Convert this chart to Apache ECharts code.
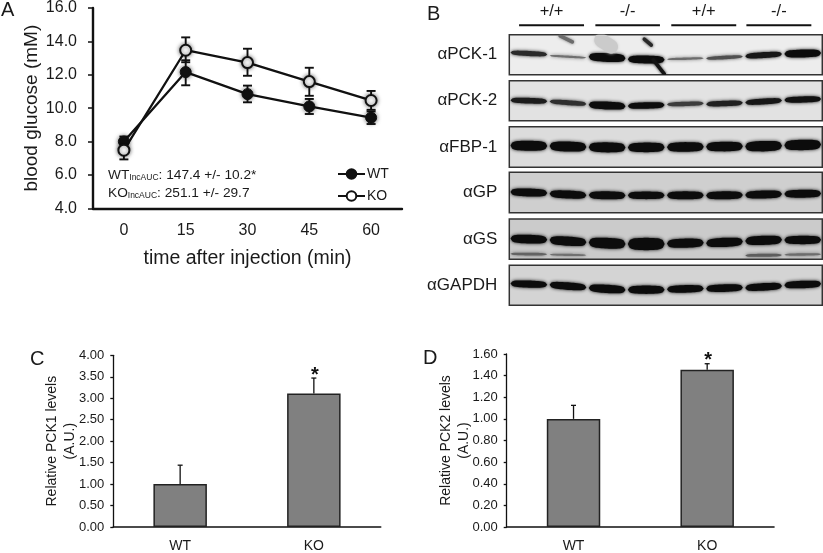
<!DOCTYPE html>
<html><head><meta charset="utf-8">
<style>html,body{margin:0;padding:0;background:#fff}#c{width:823px;height:553px}</style>
<script src="https://cdn.jsdelivr.net/npm/echarts@6/dist/echarts.min.js"></script>
</head><body><div id="c"></div>
<script>
// Panel A
const times = ['0','15','30','45','60'];
const wtMean = [8.0,12.16,10.84,10.1,9.43];
const wtLow  = [7.7,11.37,10.35,9.65,9.05];
const wtHigh = [8.3,12.87,11.35,10.55,9.8];
const koMean = [7.48,13.47,12.73,11.59,10.46];
const koLow  = [6.93,12.75,11.94,10.74,9.9];
const koHigh = [8.0,14.24,13.56,12.42,11.03];
// Panels C and D
const groups = ['WT','KO'];
const pck1Mean = [1.0,3.11];
const pck1High = [1.44,3.47];
const pck2Mean = [1.0,1.455];
const pck2High = [1.125,1.51];
const significance = ['','*'];
// Panel B: per lane band height in the blot (0 bottom to 1 top) and signal
const genotypes = ['+/+','-/-','+/+','-/-'];
const genotypeFrom = [-0.25,1.7,3.64,5.56];
const genotypeTo = [1.41,3.35,5.3,7.22];
const blotNames = ['αPCK-1','αPCK-2','αFBP-1','αGP','αGS','αGAPDH'];
const pck1Pos = [.53,.45,.43,.38,.40,.43,.49,.53];
const pck1Sig = [.65,.28,1.1,1.0,.3,.45,.75,1.0];
const pck2Pos = [.50,.45,.38,.38,.42,.43,.48,.53];
const pck2Sig = [.72,.62,1.0,.82,.55,.7,.75,.78];
const fbpPos = [.53,.51,.49,.49,.50,.51,.52,.55];
const fbpSig = [1.25,1.25,1.25,1.2,1.2,1.2,1.3,1.3];
const gpPos = [.50,.45,.43,.43,.43,.43,.45,.47];
const gpSig = [1.0,1.0,1.0,.95,1.0,1.0,1.0,1.0];
const gsPos = [.50,.45,.40,.38,.40,.42,.47,.48];
const gsSig = [1.1,1.15,1.35,1.55,1.15,1.15,1.15,1.05];
const gsLowerPos = [.13,.11,.1,.1,.1,.1,.10,.12];
const gsLowerSig = [.35,.28,0,0,0,0,.38,.3];
const gapdhPos = [.53,.48,.41,.39,.41,.43,.46,.52];
const gapdhSig = [.9,.95,1.05,1.05,.95,.95,.95,.95];
// PCK-1 membrane marks: lane from, height from, lane to, height to, strength
const pck1Marks = [[.80,.97,1.11,.82,.55],[1.85,.86,2.1,.70,.06],[2.95,.89,3.13,.74,.9],[3.18,.37,3.46,.02,1]];

const FONT = '"Liberation Sans", Arial, sans-serif';
const blotFrames = [[34.7,40],[80.7,40],[126.7,40.5],[172.3,40.4],[219,40.3],[265.3,40]];
const blotFill = ['#ededed','#e2e2e2','#dcdcdc','#cfcfcf','#cbcbcb','#d4d4d4'];
const blotBands = [
  [[pck1Pos,pck1Sig]],[[pck2Pos,pck2Sig]],[[fbpPos,fbpSig]],[[gpPos,gpSig]],
  [[gsPos,gsSig],[gsLowerPos,gsLowerSig]],[[gapdhPos,gapdhSig]]
];

const grid=[], xAxis=[], yAxis=[], series=[];

function errorRender(lw,capHalf,bothSides){
  return function(params,api){
    const x=api.value(0), lo=api.coord([x,api.value(1)]), hi=api.coord([x,api.value(2)]);
    const ln=(a,b,c,d)=>({type:'line',shape:{x1:a,y1:b,x2:c,y2:d},style:{stroke:'#111',lineWidth:lw}});
    const ch=[ln(lo[0],lo[1],hi[0],hi[1]),ln(hi[0]-capHalf,hi[1],hi[0]+capHalf,hi[1])];
    if(bothSides) ch.push(ln(lo[0]-capHalf,lo[1],lo[0]+capHalf,lo[1]));
    const mark=significance[params.dataIndex];
    if(!bothSides&&mark) ch.push({type:'text',style:{text:mark,x:hi[0]+1,y:hi[1]-3,align:'center',verticalAlign:'middle',fontFamily:FONT,fontSize:20,fontWeight:'bold',fill:'#111'}});
    return {type:'group',children:ch};
  };
}

// ---- Panel A
grid.push({left:93,top:5.3,width:309,height:203});
xAxis.push({type:'category',gridIndex:0,data:times,boundaryGap:true,name:'time after injection (min)',nameLocation:'middle',nameGap:40,
  nameTextStyle:{fontFamily:FONT,fontSize:19.5,color:'#1a1a1a'},axisLine:{lineStyle:{color:'#111',width:2.4}},
  axisTick:{alignWithLabel:true,length:3,lineStyle:{color:'#111',width:1.5}},axisLabel:{fontFamily:FONT,fontSize:16,color:'#1a1a1a',margin:14}});
yAxis.push({type:'value',gridIndex:0,min:4,max:16,interval:2,name:'blood glucose (mM)',nameLocation:'middle',nameGap:52,
  nameTextStyle:{fontFamily:FONT,fontSize:19,color:'#1a1a1a'},splitLine:{show:false},axisLine:{show:true,lineStyle:{color:'#111',width:2.4}},
  axisTick:{show:true,length:5,lineStyle:{color:'#111',width:1.5}},axisLabel:{formatter:v=>v.toFixed(1),fontFamily:FONT,fontSize:16,color:'#1a1a1a',margin:16,showMinLabel:true,showMaxLabel:true}});
const rows=(lo,hi)=>times.map((_,i)=>[i,lo[i],hi[i]]);
series.push({type:'custom',name:'WT error',xAxisIndex:0,yAxisIndex:0,data:rows(wtLow,wtHigh),encode:{x:0,y:[1,2]},renderItem:errorRender(1.9,4.5,true),z:2,clip:false});
series.push({type:'custom',name:'KO error',xAxisIndex:0,yAxisIndex:0,data:rows(koLow,koHigh),encode:{x:0,y:[1,2]},renderItem:errorRender(1.9,4.5,true),z:2,clip:false});
const lineSeries=(name,data,fill)=>({type:'line',name,xAxisIndex:0,yAxisIndex:0,data,symbol:'circle',symbolSize:11,z:4,clip:false,
  lineStyle:{color:'#111',width:2.3},itemStyle:{color:fill,borderColor:'#111',borderWidth:fill==='#fff'?2:1,shadowBlur:4,shadowColor:'rgba(0,0,0,.55)'},emphasis:{disabled:true}});
series.push(lineSeries('WT',wtMean,'#111'));
series.push(lineSeries('KO',koMean,'#fff'));

// ---- Panels C and D
function barPanel(idx,left,right,top,bottom,max,interval,name,means,highs,nameGap){
  grid.push({left,top,width:right-left,height:bottom-top});
  xAxis.push({type:'category',gridIndex:idx,data:groups,axisLine:{lineStyle:{color:'#111',width:1.6}},
    axisTick:{alignWithLabel:false,length:4,lineStyle:{color:'#111',width:1.3}},
    axisLabel:{fontFamily:FONT,fontSize:14,color:'#1a1a1a',margin:12}});
  yAxis.push({type:'value',gridIndex:idx,min:0,max,interval,name,nameLocation:'middle',nameGap,nameMoveOverlap:false,
    nameTextStyle:{fontFamily:FONT,fontSize:14,color:'#1a1a1a',lineHeight:18},splitLine:{show:false},
    axisLine:{show:true,lineStyle:{color:'#111',width:1.3}},axisTick:{show:true,length:3,lineStyle:{color:'#111',width:1.3}},
    axisLabel:{formatter:v=>v.toFixed(2),fontFamily:FONT,fontSize:13,color:'#1a1a1a',margin:9,showMinLabel:true,showMaxLabel:true}});
  series.push({type:'bar',name:name+' mean',xAxisIndex:idx,yAxisIndex:idx,data:means,barWidth:'40%',z:2,emphasis:{disabled:true},
    itemStyle:{color:'#808080',borderColor:'#222',borderWidth:1.5}});
  series.push({type:'custom',name:name+' error',xAxisIndex:idx,yAxisIndex:idx,data:groups.map((_,i)=>[i,means[i],highs[i]]),encode:{x:0,y:[1,2]},
    renderItem:errorRender(1.3,2.5,false),z:3,clip:false});
}
barPanel(1,113.3,380.7,355.3,529.3,4,0.5,'Relative PCK1 levels\n(A.U.)',pck1Mean,pck1High,34);
barPanel(2,506.7,774,354,527.7,1.6,0.2,'Relative PCK2 levels\n(A.U.)',pck2Mean,pck2High,34);

// ---- Panel B
function bandRender(params,api){
  const lane=api.value(0), pos=api.value(1), sig=api.value(2), slope=api.value(3);
  if(sig<=0) return {type:'group',children:[]};
  const N=20,top=[],bot=[];
  const halfH=api.size([0,sig*0.2])[1]/2;
  const g=Math.round(Math.max(12,165-sig*190));
  const c='rgb('+g+','+g+','+g+')';
  for(let i=0;i<=N;i++){
    const t=i/N,u=2*t-1;
    const p=api.coord([lane+u*0.47,pos+slope*u*0.55]);
    const h=halfH*Math.sqrt(Math.max(0,1-Math.pow(Math.abs(u),6)))*(1-0.12*Math.abs(u));
    top.push([p[0],p[1]-h]);bot.unshift([p[0],p[1]+h]);
  }
  return {type:'polygon',shape:{points:top.concat(bot)},style:{fill:c,shadowBlur:3.5,shadowColor:c}};
}
function markRender(params,api){
  const a=api.coord([api.value(0),api.value(1)]),b=api.coord([api.value(2),api.value(3)]),s=api.value(4);
  const g=Math.round(215-s*195);const c='rgb('+g+','+g+','+g+')';
  return {type:'line',shape:{x1:a[0],y1:a[1],x2:b[0],y2:b[1]},style:{stroke:c,lineWidth:s<.3?14:3.5,lineCap:'round',shadowBlur:3,shadowColor:c}};
}
blotNames.forEach((nm,k)=>{
  const idx=3+k;
  grid.push({left:509.3,top:blotFrames[k][0],width:313,height:blotFrames[k][1],show:true,backgroundColor:blotFill[k],borderColor:'#333',borderWidth:1.5});
  xAxis.push({type:'value',gridIndex:idx,min:-0.5,max:7.5,show:false,splitLine:{show:false}});
  yAxis.push({type:'value',gridIndex:idx,min:0,max:1,name:nm,nameLocation:'middle',nameRotate:0,nameGap:12,
    nameTextStyle:{fontFamily:FONT,fontSize:17,color:'#1a1a1a',align:'right',verticalAlign:'middle'},
    axisLine:{show:false},axisTick:{show:false},axisLabel:{show:false},splitLine:{show:false}});
  blotBands[k].forEach(([pos,sig],b)=>{
    const data=pos.map((p,i)=>[i,p,sig[i],(pos[Math.min(7,i+1)]-pos[Math.max(0,i-1)])/2]);
    series.push({type:'custom',name:nm+' band '+b,xAxisIndex:idx,yAxisIndex:idx,data,encode:{x:0,y:1},renderItem:bandRender,z:3,clip:true});
  });
  if(k===0) series.push({type:'custom',name:'marks',xAxisIndex:idx,yAxisIndex:idx,data:pck1Marks,encode:{x:[0,2],y:[1,3]},renderItem:markRender,z:4,clip:true});
});
// genotype header
grid.push({left:509.3,top:0,width:313,height:30});
xAxis.push({type:'value',gridIndex:9,min:-0.5,max:7.5,show:false,splitLine:{show:false}});
yAxis.push({type:'value',gridIndex:9,min:0,max:1,show:false,splitLine:{show:false}});
series.push({type:'custom',name:'genotype',xAxisIndex:9,yAxisIndex:9,data:genotypes.map((g,i)=>[genotypeFrom[i],genotypeTo[i]]),encode:{x:[0,1]},z:3,
  renderItem(params,api){
    const a=api.coord([api.value(0),0.16]),b=api.coord([api.value(1),0.16]);
    return {type:'group',children:[
      {type:'line',shape:{x1:a[0],y1:a[1],x2:b[0],y2:b[1]},style:{stroke:'#111',lineWidth:2}},
      {type:'text',style:{text:genotypes[params.dataIndex],x:(a[0]+b[0])/2,y:11,align:'center',verticalAlign:'middle',fontFamily:FONT,fontSize:16.5,fill:'#1a1a1a'}}
    ]};
  }});

const panelLabel=(t,x,y)=>({type:'text',x,y,style:{text:t,fontFamily:FONT,fontSize:20,fill:'#1a1a1a',verticalAlign:'middle'}});
const subRich={n:{fontFamily:FONT,fontSize:13.7,color:'#1a1a1a'},s:{fontFamily:FONT,fontSize:8.5,color:'#1a1a1a',verticalAlign:'bottom',padding:[6,0,0,0]}};
const aucText=(t,y)=>({type:'text',x:108,y,style:{text:t,rich:subRich,fontFamily:FONT,fontSize:13.7,fill:'#1a1a1a',verticalAlign:'middle'}});

echarts.init(document.getElementById('c'),null,{renderer:'canvas'}).setOption({
  animation:false,backgroundColor:'#fff',textStyle:{fontFamily:FONT},
  grid,xAxis,yAxis,series,tooltip:{show:false},
  legend:{data:['WT','KO'],orient:'vertical',left:337,top:167,padding:0,itemWidth:27,itemHeight:12,itemGap:8,
    textStyle:{fontFamily:FONT,fontSize:14,color:'#1a1a1a',padding:[0,0,0,-3]},selectedMode:false},
  graphic:[
    panelLabel('A',1,10),panelLabel('B',427,14),panelLabel('C',30,359),panelLabel('D',423,358),
    aucText('{n|WT}{s|IncAUC}{n|: 147.4 +/- 10.2*}',175),
    aucText('{n|KO}{s|IncAUC}{n|: 251.1 +/- 29.7}',193)
  ]
});
</script></body></html>
